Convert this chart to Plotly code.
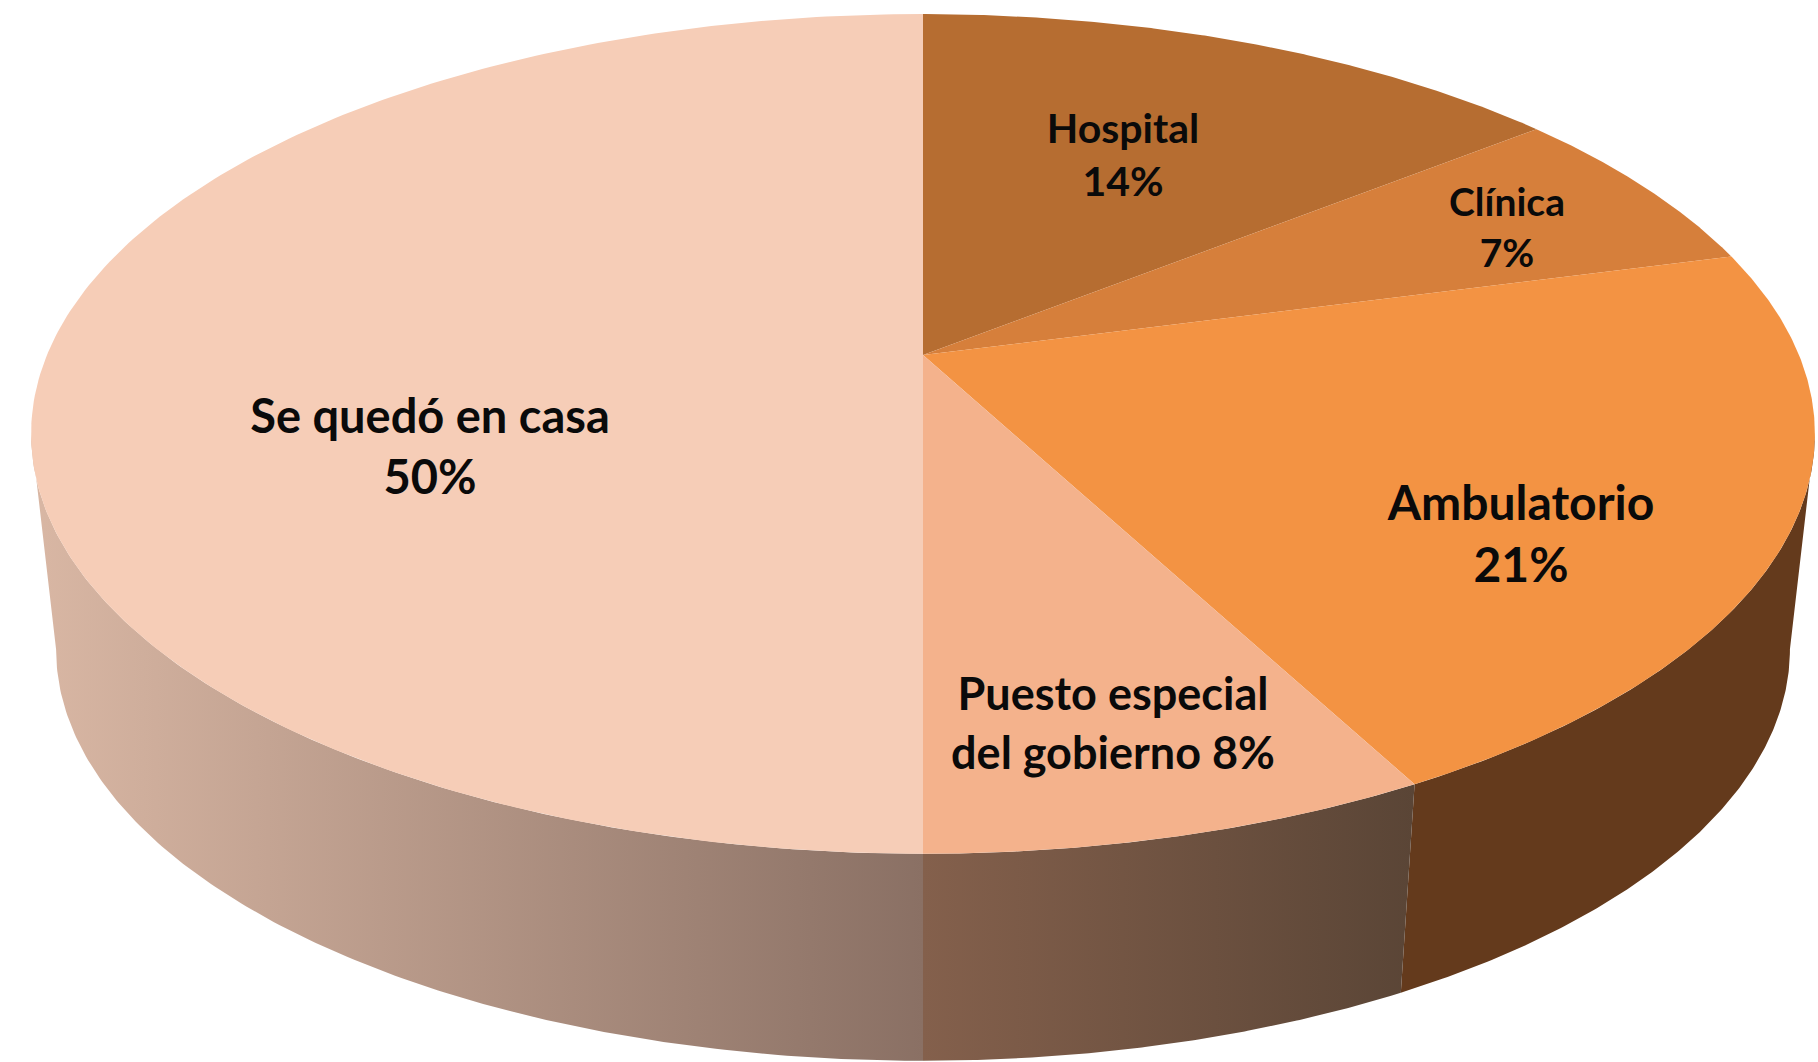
import numpy as np
import plotly.graph_objects as go

# Data (clockwise from 12 o'clock)
categories = ["Hospital", "Clínica", "Ambulatorio", "Puesto especial<br>del gobierno", "Se quedó en casa"]
shares = [14.3, 6.6, 21.35, 7.75, 50.0]
separators = ["<br>", "<br>", "<br>", " ", "<br>"]

# Styles
top_colors = ["#B66D31", "#D67F3B", "#F39343", "#F4B28C", "#F6CDB7"]
side_fills = [
    None, None, "#643A1C",
    ["#84604C", "#5A4536"],
    ["#D9B7A4", "#8A7064"],
]
label_xy = [(1123, 159), (1507, 232), (1521, 539), (1113, 728), (430, 452)]
label_sizes = [41, 39, 48, 45, 47]

# Perspective disc geometry in pixels
CX, AY = 923, 355
A, B, K = 876, 405, 0.188
SX, SY, DROP = 0.972, 0.98, 217


def project(theta, sx=1.0, sy=1.0, drop=0.0):
    X, Y = np.sin(theta), np.cos(theta)
    w = 1 + K * Y
    return CX + sx * A * X / w, AY + drop - sy * B * Y / w


edges = 2 * np.pi * np.cumsum([0] + shares) / sum(shares)
right_limit = np.arccos(-K)             # silhouette tangent, right
left_limit = 2 * np.pi - right_limit    # silhouette tangent, left

fig = go.Figure()

# Side walls
for i, fill in enumerate(side_fills):
    if fill is None:
        continue
    t0 = max(edges[i], right_limit) if i == 2 else edges[i]
    t1 = min(edges[i + 1], left_limit)
    th = np.linspace(t0, t1, 160)
    xt, yt = project(th)
    xb, yb = project(th[::-1], SX, SY, DROP)
    xs = np.r_[xt, xb, xt[0]]
    ys = np.r_[yt, yb, yt[0]]
    kw = {}
    if isinstance(fill, list):
        kw["fillgradient"] = dict(
            type="horizontal",
            colorscale=[[0, fill[0]], [1, fill[1]]],
            start=float(xs.min()),
            stop=float(xs.max()),
        )
    else:
        kw["fillcolor"] = fill
    fig.add_trace(go.Scatter(x=xs, y=ys, mode="lines", fill="toself",
                             line=dict(width=0), hoverinfo="skip", **kw))

# Top faces
for i, color in enumerate(top_colors):
    th = np.linspace(edges[i], edges[i + 1], 240)
    xt, yt = project(th)
    fig.add_trace(go.Scatter(x=np.r_[CX, xt, CX], y=np.r_[AY, yt, AY], mode="lines",
                             fill="toself", fillcolor=color, line=dict(width=0),
                             hoverinfo="skip"))

# Labels
for name, share, sep, (lx, ly), size in zip(categories, shares, separators, label_xy, label_sizes):
    fig.add_trace(go.Scatter(
        x=[lx], y=[ly], mode="text",
        text=[f"{name}{sep}{round(share)}%"],
        textposition="middle center",
        textfont=dict(family="Lato", size=size, color="#0a0a0a", weight=700),
        hoverinfo="skip",
    ))

fig.update_layout(
    width=1818, height=1062, margin=dict(l=0, r=0, t=0, b=0),
    paper_bgcolor="white", plot_bgcolor="white", showlegend=False,
    xaxis=dict(range=[0, 1818], visible=False, fixedrange=True),
    yaxis=dict(range=[1062, 0], visible=False, fixedrange=True),
)
fig.write_html("out.html", config={"displayModeBar": False},
               post_script="document.body.style.margin='0';document.body.style.overflow='hidden';")
